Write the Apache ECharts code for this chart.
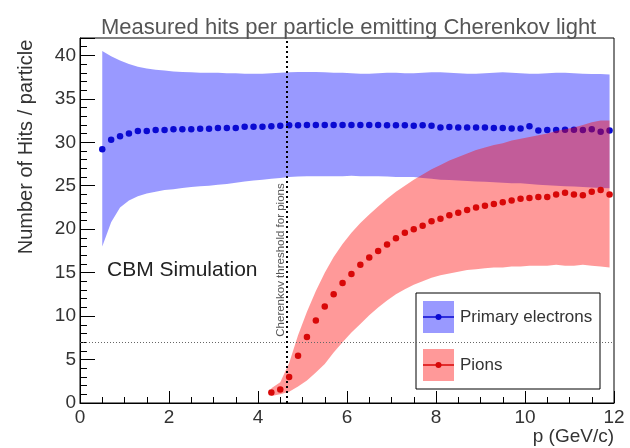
<!DOCTYPE html>
<html>
<head>
<meta charset="utf-8">
<script src="https://cdn.jsdelivr.net/npm/echarts/dist/echarts.min.js"></script>
<style>
  html, body { margin: 0; padding: 0; background: #fff; }
  #main { width: 630px; height: 448px; }
</style>
</head>
<body>
<div id="main"></div>
<script>
// momentum points (GeV/c)
var eP = [0.5,0.7,0.9,1.1,1.3,1.5,1.7,1.9,2.1,2.3,2.5,2.7,2.9,3.1,3.3,3.5,3.7,3.9,4.1,4.3,
          4.5,4.7,4.9,5.1,5.3,5.5,5.7,5.9,6.1,6.3,6.5,6.7,6.9,7.1,7.3,7.5,7.7,7.9,8.1,8.3,
          8.5,8.7,8.9,9.1,9.3,9.5,9.7,9.9,10.1,10.3,10.5,10.7,10.9,11.1,11.3,11.5,11.7,11.9];
// primary electrons: mean hits and band edges
var eHits = [29.2,30.3,30.7,31.0,31.3,31.3,31.4,31.4,31.5,31.5,31.5,31.55,31.55,31.65,31.65,31.65,31.8,31.8,31.8,31.85,
             31.9,31.95,31.95,32.0,32.0,32.0,32.0,32.0,32.0,32.0,32.0,32.0,31.95,31.95,31.95,31.9,31.95,31.9,31.7,31.75,
             31.7,31.7,31.7,31.7,31.65,31.65,31.6,31.6,31.85,31.35,31.4,31.4,31.45,31.45,31.4,31.5,31.2,31.35];
var eHigh = [40.5,39.9,39.4,39.0,38.7,38.5,38.35,38.25,38.15,38.1,38.05,38.0,38.0,38.0,37.95,37.95,37.9,37.9,37.9,37.95,
             38.0,38.05,38.1,38.1,38.1,38.05,38.0,38.0,37.95,37.9,37.9,37.95,38.0,38.0,37.95,37.95,38.0,38.05,38.05,38.0,
             37.95,37.9,37.9,37.95,38.0,38.05,38.0,37.95,37.9,37.9,37.95,38.0,38.0,37.95,37.9,37.85,37.85,37.8];
var eLow = [18.0,20.8,22.5,23.3,23.8,24.1,24.3,24.5,24.6,24.75,24.85,24.95,25.0,25.1,25.2,25.35,25.5,25.6,25.7,25.8,
            25.9,26.0,26.05,26.1,26.1,26.1,26.1,26.1,26.15,26.1,26.1,26.1,26.05,26.0,26.0,26.0,25.9,25.8,25.7,25.65,
            25.6,25.55,25.5,25.45,25.4,25.35,25.3,25.3,25.2,25.1,25.05,25.0,24.95,24.9,24.85,24.8,24.75,24.7];
// pions
var piP = [4.3,4.5,4.7,4.9,5.1,5.3,5.5,5.7,5.9,6.1,6.3,6.5,6.7,6.9,7.1,7.3,7.5,7.7,7.9,8.1,
           8.3,8.5,8.7,8.9,9.1,9.3,9.5,9.7,9.9,10.1,10.3,10.5,10.7,10.9,11.1,11.3,11.5,11.7,11.9];
var piHits = [1.2,1.55,3.0,5.45,7.6,9.5,11.1,12.5,13.8,14.85,15.9,16.75,17.5,18.25,18.95,19.6,20.0,20.4,20.9,21.2,
              21.6,21.9,22.2,22.5,22.7,22.9,23.1,23.3,23.5,23.6,23.7,23.7,24.0,24.2,24.0,23.9,24.3,24.5,24.0];
var piHigh = [1.7,2.4,4.6,7.8,10.5,12.9,15.0,16.8,18.3,19.6,20.7,21.7,22.6,23.5,24.3,25.0,25.7,26.3,26.9,27.4,
              27.9,28.3,28.7,29.1,29.4,29.7,29.9,30.2,30.4,30.6,30.8,31.0,31.3,31.5,31.7,32.0,32.3,32.5,32.5];
var piLow = [0.8,1.0,1.3,1.9,2.6,3.5,4.5,5.8,7.0,8.1,9.1,10.1,11.0,11.8,12.5,13.1,13.6,14.0,14.4,14.7,
             14.9,15.1,15.3,15.4,15.5,15.6,15.6,15.7,15.7,15.8,15.8,15.8,15.9,15.8,15.8,15.9,15.8,15.7,15.6];
var thresholdP = 4.65;   // Cherenkov threshold for pions
var hitCut = 7;

var FONT = 'Liberation Sans, Arial, sans-serif';

function bandData(xs, lo, hi){
    var d = [];
    for(var i=0;i<xs.length;i++){
        d.push([xs[i], lo[i], hi[i]]);
    }
    return d;
}
// whole band as one polygon, drawn once
function bandItem(xs, lo, hi, color){
    return function(params, api){
        if(params.dataIndex !== 0) return;
        var pts = [];
        for(var i=0;i<xs.length;i++) pts.push(api.coord([xs[i], hi[i]]));
        for(var j=xs.length-1;j>=0;j--) pts.push(api.coord([xs[j], lo[j]]));
        return {type:'polygon', shape:{points:pts}, style:{fill:color}};
    };
}
function pts(xs, ys){
    var d = [];
    for(var i=0;i<xs.length;i++) d.push([xs[i], ys[i]]);
    return d;
}

var chart = echarts.init(document.getElementById('main'));
var option = {
    animation: false,
    title: {
        text: 'Measured hits per particle emitting Cherenkov light',
        left: 96, top: 12,
        textStyle: {fontFamily: FONT, fontSize: 22, fontWeight: 'normal', color: '#555'}
    },
    grid: {
        left: 80, right: 16, top: 38, bottom: 45,
        show: true, borderColor: '#000', borderWidth: 1, backgroundColor: 'transparent'
    },
    xAxis: {
        type: 'value', min: 0, max: 12, interval: 2,
        axisLine: {onZero: false, lineStyle: {color: '#000', width: 1}},
        axisTick: {inside: true, length: 12, lineStyle: {color: '#000'}},
        minorTick: {show: true, splitNumber: 4, length: 6, lineStyle: {color: '#000'}},
        axisLabel: {margin: 5, fontFamily: FONT, fontSize: 19, color: '#333'},
        splitLine: {show: false}
    },
    yAxis: {
        type: 'value', min: 0, max: 42, interval: 5,
        axisLine: {show: true, onZero: false, lineStyle: {color: '#000', width: 1}},
        axisTick: {show: true, inside: true, length: 15, lineStyle: {color: '#000'}},
        minorTick: {show: true, splitNumber: 5, length: 7, lineStyle: {color: '#000'}},
        axisLabel: {margin: 4, fontFamily: FONT, fontSize: 19, color: '#333', showMaxLabel: false},
        splitLine: {show: false}
    },
    series: [
        {
            name: 'Primary electrons band',
            type: 'custom', z: 2, silent: true,
            data: bandData(eP, eLow, eHigh),
            encode: {x: 0, y: [1, 2]},
            renderItem: bandItem(eP, eLow, eHigh, 'rgba(0,0,255,0.4)')
        },
        {
            name: 'Primary electrons',
            type: 'scatter', z: 3,
            symbol: 'circle', symbolSize: 6.5,
            itemStyle: {color: '#0a0ad2', opacity: 1},
            data: pts(eP, eHits),
            markLine: {
                silent: true, symbol: ['none', 'none'], label: {show: false},
                data: [{yAxis: hitCut, lineStyle: {color: '#666', type: [1, 2], width: 1}}]
            }
        },
        {
            name: 'Pions band',
            type: 'custom', z: 4, silent: true,
            data: bandData(piP, piLow, piHigh),
            encode: {x: 0, y: [1, 2]},
            renderItem: bandItem(piP, piLow, piHigh, 'rgba(255,0,0,0.4)')
        },
        {
            name: 'Pions',
            type: 'scatter', z: 5,
            symbol: 'circle', symbolSize: 6.5,
            itemStyle: {color: '#d80808', opacity: 1},
            data: pts(piP, piHits),
            markLine: {
                silent: true, symbol: ['none', 'none'], label: {show: false},
                data: [{xAxis: thresholdP, lineStyle: {color: '#000', type: [2, 3], width: 2}}]
            }
        }
    ],
    graphic: [
        {type: 'text', x: 26, y: 147, rotation: Math.PI / 2,
         style: {text: 'Number of Hits / particle', font: '20px ' + FONT, fill: '#333', align: 'center', verticalAlign: 'middle'}},
        {type: 'text', x: 614, y: 437,
         style: {text: 'p (GeV/c)', font: '19px ' + FONT, fill: '#333', align: 'right', verticalAlign: 'middle'}},
        {type: 'text', x: 107, y: 270,
         style: {text: 'CBM Simulation', font: '21px ' + FONT, fill: '#222', align: 'left', verticalAlign: 'middle'}},
        {type: 'text', x: 281, y: 260, rotation: Math.PI / 2,
         style: {text: 'Cherenkov threshold for pions', font: '11.5px ' + FONT, fill: '#555', align: 'center', verticalAlign: 'middle'}},
        // legend box
        {type: 'group', z: 100, children: [
            {type: 'rect', shape: {x: 416, y: 293, width: 184, height: 96}, style: {fill: '#fff', stroke: '#000', lineWidth: 1}},
            {type: 'rect', shape: {x: 423, y: 301, width: 31, height: 32}, style: {fill: 'rgba(0,0,255,0.4)'}},
            {type: 'line', shape: {x1: 423, y1: 317, x2: 454, y2: 317}, style: {stroke: '#0a0ad2', lineWidth: 1.5}},
            {type: 'circle', shape: {cx: 438.5, cy: 317, r: 3}, style: {fill: '#0a0ad2'}},
            {type: 'text', x: 460, y: 317, style: {text: 'Primary electrons', font: '17px ' + FONT, fill: '#333', verticalAlign: 'middle'}},
            {type: 'rect', shape: {x: 423, y: 349, width: 31, height: 32}, style: {fill: 'rgba(255,0,0,0.4)'}},
            {type: 'line', shape: {x1: 423, y1: 365, x2: 454, y2: 365}, style: {stroke: '#d80808', lineWidth: 1.5}},
            {type: 'circle', shape: {cx: 438.5, cy: 365, r: 3}, style: {fill: '#d80808'}},
            {type: 'text', x: 460, y: 365, style: {text: 'Pions', font: '17px ' + FONT, fill: '#333', verticalAlign: 'middle'}}
        ]}
    ]
};
chart.setOption(option);
</script>
</body>
</html>
